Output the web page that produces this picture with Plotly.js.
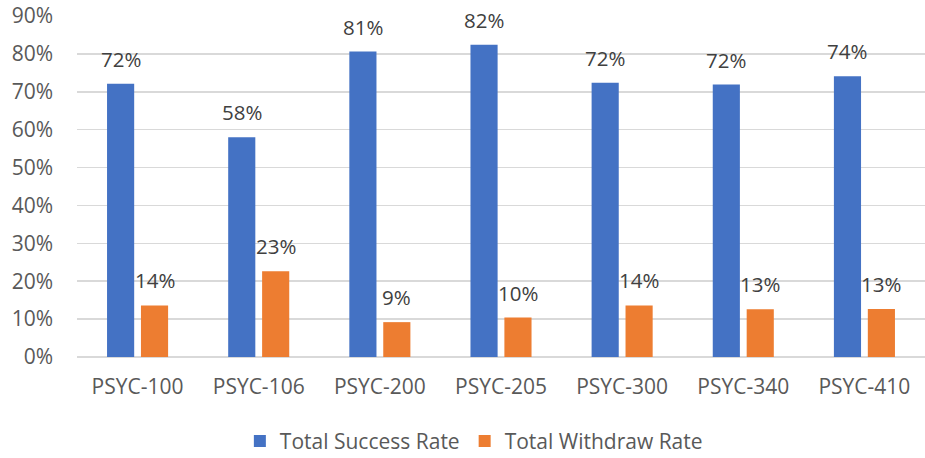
<!DOCTYPE html>
<html>
<head>
<meta charset="utf-8">
<script src="https://cdn.plot.ly/plotly-3.0.1.min.js"></script>
<style>html,body{margin:0;padding:0;background:#fff;}#chart{width:925px;height:458px;}</style>
</head>
<body>
<div id="chart"></div>
<script>
const categories = ["PSYC-100", "PSYC-106", "PSYC-200", "PSYC-205", "PSYC-300", "PSYC-340", "PSYC-410"];
const successRate = [0.721, 0.580, 0.806, 0.824, 0.724, 0.719, 0.741];
const withdrawRate = [0.136, 0.226, 0.092, 0.104, 0.136, 0.126, 0.127];
const seriesNames = ["Total Success Rate", "Total Withdraw Rate"];
const colors = ["#4472C4", "#ED7D31"];

const bargap = 0.44;
const font = "'Open Sans', 'Noto Sans', sans-serif";
const slot = (1 - bargap) / 2;

const traces = [successRate, withdrawRate].map((vals, k) => ({
  type: "bar",
  name: seriesNames[k],
  x: categories,
  y: vals,
  marker: {color: colors[k]},
  hoverinfo: "skip"
}));

const annotations = [];
[successRate, withdrawRate].forEach((vals, k) => {
  vals.forEach((v, i) => {
    annotations.push({
      xref: "x", yref: "y",
      x: i + (k === 0 ? -slot / 2 : slot / 2),
      y: v,
      text: Math.round(v * 100) + "%",
      showarrow: false,
      yanchor: "middle",
      yshift: 25,
      font: {family: font, size: 20.5, color: "#404040"}
    });
  });
});

const layout = {
  width: 925, height: 458,
  margin: {l: 77, r: 0, t: 16, b: 101, autoexpand: false},
  paper_bgcolor: "#fff", plot_bgcolor: "#fff",
  barmode: "group",
  bargap: bargap,
  bargroupgap: 0.2,
  font: {family: font, size: 21, color: "#595959"},
  xaxis: {
    type: "category",
    automargin: false,
    showgrid: false,
    showline: false,
    zeroline: false,
    ticks: "",
    ticklabelstandoff: 15,
    tickfont: {family: font, size: 21, color: "#595959"}
  },
  yaxis: {
    automargin: false,
    range: [0, 0.9],
    dtick: 0.1,
    tick0: 0,
    tickformat: ".0%",
    showgrid: true,
    gridcolor: "#D9D9D9",
    gridwidth: 1.5,
    zeroline: true,
    zerolinecolor: "#D9D9D9",
    zerolinewidth: 1.5,
    showline: false,
    ticks: "",
    ticklabelstandoff: 23,
    tickfont: {family: font, size: 21, color: "#595959"}
  },
  showlegend: true,
  legend: {
    orientation: "h",
    x: 0.468, xanchor: "center",
    y: -0.247, yanchor: "middle",
    font: {family: font, size: 21, color: "#595959"},
    itemwidth: 30
  },
  annotations: annotations
};

Plotly.newPlot("chart", traces, layout, {displayModeBar: false, staticPlot: true});
</script>
</body>
</html>
